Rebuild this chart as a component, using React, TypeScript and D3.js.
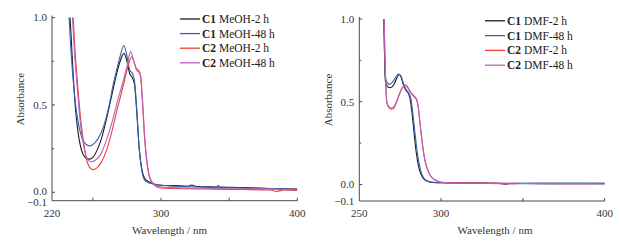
import React from "react";
import * as d3 from "d3";

type Pt = [number, number];

// ---- Left panel (MeOH) ----
const meohC1_2h: Pt[] = [
  [232.6, 1.05], [233.2, 1.0], [235, 0.75], [237, 0.5], [239, 0.35], [241, 0.26], [243, 0.215], [245, 0.195],
  [247.4, 0.19], [250, 0.2], [253, 0.24], [256, 0.3], [260, 0.42], [264, 0.56], [267, 0.665], [270, 0.75],
  [272.8, 0.795], [275, 0.75], [277, 0.68], [279, 0.655], [280.5, 0.62], [282, 0.48], [284, 0.25], [286, 0.13],
  [288, 0.08], [291, 0.06], [296, 0.045], [300, 0.04], [310, 0.038], [320, 0.035], [322.5, 0.042], [325, 0.035],
  [340, 0.03], [360, 0.027], [380, 0.022], [400, 0.018],
];
const meohC1_48h: Pt[] = [
  [232.0, 1.05], [232.5, 1.0], [234, 0.8], [236, 0.6], [238, 0.46], [240, 0.37], [242, 0.31], [245, 0.275],
  [248, 0.265], [251, 0.28], [254, 0.31], [258, 0.38], [262, 0.5], [265, 0.62], [268, 0.72], [270, 0.78],
  [272.8, 0.84], [275, 0.78], [277, 0.7], [279, 0.68], [280.5, 0.64], [282, 0.5], [284, 0.25], [286, 0.12],
  [288, 0.07], [291, 0.055], [296, 0.045], [300, 0.04], [320, 0.032], [340, 0.028], [342, 0.038], [344, 0.03],
  [360, 0.025], [380, 0.022], [400, 0.018],
];
const meohC2_2h: Pt[] = [
  [235.0, 1.05], [235.5, 1.0], [237, 0.8], [239, 0.6], [241, 0.42], [243, 0.3], [245, 0.2], [247, 0.15],
  [249.8, 0.13], [253, 0.14], [256, 0.17], [260, 0.24], [264, 0.35], [268, 0.48], [272, 0.6], [275, 0.7],
  [278.5, 0.775], [280.5, 0.74], [282, 0.7], [283.5, 0.69], [285, 0.66], [286.5, 0.5], [288, 0.3], [289.5, 0.18],
  [291, 0.1], [293, 0.06], [296, 0.035], [300, 0.025], [320, 0.02], [340, 0.018], [360, 0.016], [380, 0.013],
  [385, 0.005], [390, 0.014], [400, 0.01],
];
const meohC2_48h: Pt[] = [
  [234.5, 1.05], [235, 1.0], [236.5, 0.8], [238.5, 0.6], [240.5, 0.42], [242.5, 0.3], [245, 0.21], [247, 0.18],
  [249, 0.175], [252, 0.185], [256, 0.22], [260, 0.3], [264, 0.4], [268, 0.52], [272, 0.63], [275, 0.72],
  [277.7, 0.805], [280, 0.75], [282, 0.71], [283.5, 0.7], [285, 0.67], [286.5, 0.52], [288, 0.32], [289.5, 0.19],
  [291, 0.11], [293, 0.065], [296, 0.04], [300, 0.03], [320, 0.025], [340, 0.022], [360, 0.02], [380, 0.018],
  [400, 0.015],
];

// ---- Right panel (DMF) ----
const dmfC1_2h: Pt[] = [
  [265.0, 1.0], [265.3, 0.85], [265.6, 0.7], [266, 0.62], [267, 0.595], [268.5, 0.585], [270, 0.59], [271.5, 0.61],
  [273, 0.645], [274.2, 0.665], [275.5, 0.65], [277, 0.6], [278.5, 0.57], [280, 0.55], [281, 0.52], [282, 0.45],
  [283, 0.36], [284, 0.26], [285, 0.18], [286, 0.12], [287, 0.08], [288.5, 0.045], [290, 0.028], [292, 0.018],
  [295, 0.012], [300, 0.01], [320, 0.008], [340, 0.006], [360, 0.005], [380, 0.004], [400, 0.004],
];
const dmfC1_48h: Pt[] = [
  [265.0, 1.0], [265.4, 0.8], [266, 0.65], [267, 0.615], [268.5, 0.605], [270, 0.615], [271.5, 0.635], [273, 0.66],
  [274, 0.668], [275.5, 0.655], [277, 0.61], [278.5, 0.575], [280, 0.555], [281.5, 0.52], [282.5, 0.45], [283.5, 0.36],
  [284.5, 0.27], [285.5, 0.19], [286.5, 0.13], [287.5, 0.085], [289, 0.045], [290.5, 0.028], [292.5, 0.018], [296, 0.012],
  [300, 0.01], [320, 0.009], [335, 0.007], [340, 0.0], [342, 0.007], [360, 0.008], [380, 0.008], [400, 0.008],
];
const dmfC2_2h: Pt[] = [
  [265.2, 1.0], [265.6, 0.8], [266.2, 0.6], [267, 0.49], [268, 0.465], [269.5, 0.455], [271, 0.46], [272.5, 0.49],
  [274, 0.53], [275.5, 0.57], [277, 0.595], [278, 0.603], [279.5, 0.59], [281, 0.565], [282.5, 0.545], [284, 0.53],
  [285, 0.515], [286, 0.47], [287, 0.38], [288, 0.29], [289, 0.21], [290, 0.15], [291, 0.11], [292.5, 0.07],
  [294, 0.045], [296, 0.028], [298, 0.018], [301, 0.012], [310, 0.01], [330, 0.008], [350, 0.006], [370, 0.005],
  [400, 0.004],
];
const dmfC2_48h: Pt[] = [
  [265.2, 1.0], [265.5, 0.85], [266, 0.65], [266.8, 0.5], [268, 0.47], [269.5, 0.462], [271, 0.468], [272.5, 0.495],
  [274, 0.535], [275.5, 0.57], [277, 0.592], [278, 0.598], [279.5, 0.585], [281, 0.56], [282.5, 0.54], [284, 0.525],
  [285, 0.512], [286, 0.47], [287, 0.385], [288, 0.295], [289, 0.215], [290, 0.155], [291, 0.115], [292.5, 0.072],
  [294, 0.047], [296, 0.03], [298, 0.02], [301, 0.013], [310, 0.009], [330, 0.006], [345, 0.003], [350, 0.005],
  [370, 0.005], [400, 0.004],
];

const seriesColors = ["#1c1c1c", "#3560b8", "#f03c3c", "#b462c0"];
const compoundLabels = ["C1", "C1", "C2", "C2"];
const meohLabels = ["MeOH-2 h", "MeOH-48 h", "MeOH-2 h", "MeOH-48 h"];
const dmfLabels = ["DMF-2 h", "DMF-48 h", "DMF-2 h", "DMF-48 h"];

const leftXTickLabels = [220, 300, 400];
const leftXTicks = [250, 300, 350, 400];
const rightXTickLabels = [250, 300, 400];
const rightXTicks = [300, 350, 400];
const yMajor = [0, 0.5, 1.0];
const yMinor = [0.25, 0.75];

const FONT = "Liberation Serif";
const AXIS = "#4a4a4a";
const TXT = "#333";

interface PanelProps {
  id: string;
  x: d3.ScaleLinear<number, number>;
  y: d3.ScaleLinear<number, number>;
  series: Pt[][];
  labels: string[];
  xTicks: number[];
  xLabels: number[];
  yTitleX: number;
  xTitleX: number;
  legendX: number;
  legendY: number;
  legendStep: number;
  tight: boolean;
}

function Panel(p: PanelProps) {
  const { x, y } = p;
  const [x0, x1] = x.range();
  const yBottom = y(-0.1);
  const yTop = y(1.0);
  const line = d3
    .line<Pt>()
    .x((d) => x(d[0]))
    .y((d) => y(d[1]))
    .curve(d3.curveMonotoneX);
  return (
    <g>
      <defs>
        <clipPath id={p.id}>
          <rect x={x0} y={yTop} width={x1 - x0} height={yBottom - yTop} />
        </clipPath>
      </defs>
      <g clipPath={`url(#${p.id})`}>
        {p.series.map((s, i) => (
          <path key={i} d={line(s) || ""} fill="none" stroke={seriesColors[i]} strokeWidth={1.1} />
        ))}
      </g>
      <line x1={x0} x2={x0} y1={yTop - 2} y2={yBottom} stroke={AXIS} strokeWidth={1} />
      <line x1={x0} x2={x1} y1={yBottom} y2={yBottom} stroke={AXIS} strokeWidth={1} />
      {yMajor.map((v) => (
        <g key={"ym" + v}>
          <line x1={x0} x2={x0 + 3} y1={y(v)} y2={y(v)} stroke={AXIS} />
          <text
            x={x0 - 5}
            y={y(v) - (p.tight && v === 0 ? 1.5 : 0)}
            dy="0.35em"
            textAnchor="end"
            fontSize={11}
            fontFamily={FONT}
            fill={TXT}
          >
            {d3.format(".1f")(v)}
          </text>
        </g>
      ))}
      <text
        x={x0 - 5}
        y={yBottom + (p.tight ? 1.5 : 0)}
        dy="0.35em"
        textAnchor="end"
        fontSize={11}
        fontFamily={FONT}
        fill={TXT}
      >
        {"\u22120.1"}
      </text>
      {yMinor.map((v) => (
        <line key={"yn" + v} x1={x0} x2={x0 + 2} y1={y(v)} y2={y(v)} stroke={AXIS} />
      ))}
      {p.xTicks.map((v) => (
        <line key={"xt" + v} x1={x(v)} x2={x(v)} y1={yBottom} y2={yBottom - 3} stroke={AXIS} />
      ))}
      {p.xLabels.map((v) => (
        <text key={"xl" + v} x={x(v)} y={216.5} textAnchor="middle" fontSize={11} fontFamily={FONT} fill={TXT}>
          {v}
        </text>
      ))}
      <text x={p.xTitleX} y={233.5} textAnchor="middle" fontSize={11} fontFamily={FONT} fill={TXT}>
        Wavelength / nm
      </text>
      <text
        transform={`translate(${p.yTitleX},${(yTop + yBottom) / 2 - 10}) rotate(-90)`}
        textAnchor="middle"
        dy="0.35em"
        fontSize={11}
        fontFamily={FONT}
        fill={TXT}
      >
        Absorbance
      </text>
      {p.labels.map((lab, i) => {
        const ly = p.legendY + i * p.legendStep;
        return (
          <g key={"lg" + i}>
            <line x1={p.legendX} x2={p.legendX + 20} y1={ly} y2={ly} stroke={seriesColors[i]} strokeWidth={1.3} />
            <text x={p.legendX + 22} y={ly} dy="0.35em" fontSize={11.5} fontFamily={FONT} fill="#222">
              <tspan fontWeight="bold">{compoundLabels[i]}</tspan>
              <tspan>{" " + lab}</tspan>
            </text>
          </g>
        );
      })}
    </g>
  );
}

export default function App() {
  const xL = d3.scaleLinear().domain([220, 400]).range([52, 297.3]);
  const yL = d3.scaleLinear().domain([-0.1, 0, 1]).range([200.7, 192.3, 17.6]);
  const xR = d3.scaleLinear().domain([250, 400]).range([359.3, 604.7]);
  const yR = d3.scaleLinear().domain([-0.1, 1]).range([201, 19]);
  return (
    <svg width={620} height={243} style={{ position: "absolute", left: 0, top: 0, background: "#fff" }}>
      <Panel
        id="clipL"
        x={xL}
        y={yL}
        series={[meohC1_2h, meohC1_48h, meohC2_2h, meohC2_48h]}
        labels={meohLabels}
        xTicks={leftXTicks}
        xLabels={leftXTickLabels}
        yTitleX={20}
        xTitleX={169.5}
        legendX={180}
        legendY={19}
        legendStep={14.6}
        tight={true}
      />
      <Panel
        id="clipR"
        x={xR}
        y={yR}
        series={[dmfC1_2h, dmfC1_48h, dmfC2_2h, dmfC2_48h]}
        labels={dmfLabels}
        xTicks={rightXTicks}
        xLabels={rightXTickLabels}
        yTitleX={328}
        xTitleX={495}
        legendX={485}
        legendY={20.8}
        legendStep={14.8}
        tight={false}
      />
    </svg>
  );
}
